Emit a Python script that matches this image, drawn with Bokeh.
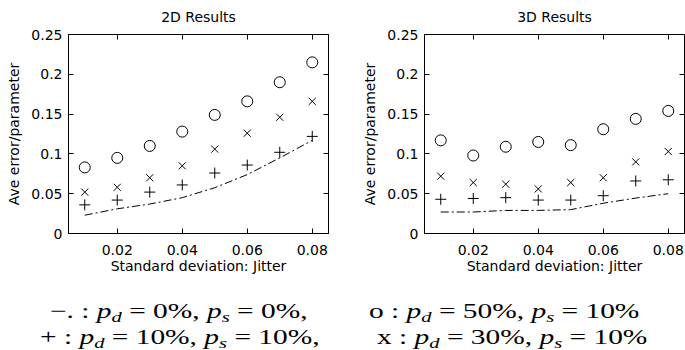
from bokeh.plotting import figure
from bokeh.models import FixedTicker, LinearAxis, Div, Range1d, CustomJSTickFormatter, Title
from bokeh.layouts import column, row
from bokeh.embed import file_html
from bokeh.resources import INLINE

jitter = [0.01, 0.02, 0.03, 0.04, 0.05, 0.06, 0.07, 0.08]
x_ticks = [0.02, 0.04, 0.06, 0.08]
y_ticks = [0, 0.05, 0.1, 0.15, 0.2, 0.25]

# 2D results
d2_circle = [0.083, 0.095, 0.110, 0.128, 0.149, 0.166, 0.190, 0.215]
d2_x = [0.052, 0.058, 0.070, 0.085, 0.106, 0.126, 0.146, 0.166]
d2_plus = [0.036, 0.042, 0.052, 0.061, 0.076, 0.086, 0.102, 0.122]
d2_dashdot = [0.023, 0.031, 0.037, 0.045, 0.0575, 0.074, 0.095, 0.117]

# 3D results
d3_circle = [0.117, 0.098, 0.109, 0.115, 0.111, 0.131, 0.144, 0.154]
d3_x = [0.072, 0.064, 0.062, 0.056, 0.064, 0.070, 0.090, 0.103]
d3_plus = [0.043, 0.044, 0.045, 0.042, 0.042, 0.0475, 0.066, 0.0675]
d3_dashdot = [0.027, 0.027, 0.029, 0.029, 0.030, 0.038, 0.0445, 0.050]

FONT = "DejaVu Sans"
fmt = CustomJSTickFormatter(code="return tick.toFixed(2).replace(/0+$/,'').replace(/\\.$/,'');")
blank = CustomJSTickFormatter(code="return '';")


def style_axis(ax, show_labels=True):
    ax.axis_line_color = "black"
    ax.major_tick_line_color = "black"
    ax.major_tick_in = 5
    ax.major_tick_out = 0
    ax.minor_tick_line_color = None
    if show_labels:
        ax.major_label_text_font = FONT
        ax.major_label_text_font_size = "14px"
        ax.major_label_text_color = "black"
        ax.axis_label_text_font = FONT
        ax.axis_label_text_font_size = "14px"
        ax.axis_label_text_font_style = "normal"
        ax.axis_label_text_color = "black"
        ax.formatter = fmt
    else:
        ax.formatter = blank
        ax.major_label_text_font_size = "2px"
        ax.major_label_standoff = 0


def make(title, circ, xs, plus, dd, ml, mr, w):
    p = figure(width=w, height=283, x_range=Range1d(0.005, 0.085), y_range=Range1d(0, 0.25),
               output_backend="svg", toolbar_location=None,
               min_border_left=ml, min_border_right=mr, min_border_top=33, min_border_bottom=50)
    p.grid.visible = False
    p.outline_line_color = "black"
    p.outline_line_width = 1
    p.xaxis.ticker = FixedTicker(ticks=x_ticks)
    p.yaxis.ticker = FixedTicker(ticks=y_ticks)
    for ax in p.xaxis:
        style_axis(ax)
        ax.axis_label = "Standard deviation: Jitter"
        ax.major_label_standoff = 11
        ax.axis_label_standoff = 0
    for ax in p.yaxis:
        style_axis(ax)
        ax.axis_label = "Ave error/parameter"
        ax.major_label_standoff = 6
        ax.axis_label_standoff = 6
    top = LinearAxis(ticker=FixedTicker(ticks=x_ticks))
    style_axis(top, False)
    p.add_layout(top, "above")
    right = LinearAxis(ticker=FixedTicker(ticks=y_ticks))
    style_axis(right, False)
    p.add_layout(right, "right")
    t = Title(text=title, align="center", text_font=FONT, text_font_size="14px",
              text_font_style="normal", text_color="black", standoff=16, vertical_align="top")
    p.add_layout(t, "above")

    p.line(jitter, dd, line_color="black", line_width=1, line_dash="8 3 2 3")
    p.scatter(jitter, circ, marker="circle", size=11, fill_color=None, line_color="black", line_width=1)
    p.scatter(jitter, xs, marker="x", size=10, line_color="black", line_width=1)
    p.scatter(jitter, plus, marker="cross", size=11, line_color="black", line_width=1)
    return p


f1 = make("2D Results", d2_circle, d2_x, d2_plus, d2_dashdot, 68, 12, 340)
f2 = make("3D Results", d3_circle, d3_x, d3_plus, d3_dashdot, 84, 1, 345)

SUB = '<span style="font-size:70%;font-style:italic;vertical-align:-0.25em">{}</span>'
P = '<i>p</i>'
legend_items = [
    (f"&minus;. : {P}{SUB.format('d')} = 0%, {P}{SUB.format('s')} = 0%,", 45, 12),
    (f"o : {P}{SUB.format('d')} = 50%, {P}{SUB.format('s')} = 10%", 364, 12),
    (f"+ : {P}{SUB.format('d')} = 10%, {P}{SUB.format('s')} = 10%,", 35, 38),
    (f"x : {P}{SUB.format('d')} = 30%, {P}{SUB.format('s')} = 10%", 372, 38),
]
spans = "".join(
    f'<span style="position:absolute;left:{l}px;top:{t}px;white-space:nowrap;line-height:22px;'
    f'transform:scaleX(1.4);transform-origin:0 50%">{txt}</span>'
    for txt, l, t in legend_items
)
html = ('<div style="position:relative;width:669px;height:60px;font-family:\'Liberation Serif\';'
        'font-size:21px;color:black">' + spans + '</div>')
div = Div(text=html, width=669, height=60)

layout = column(row(f1, f2), div)
open("out.html", "w").write(file_html(layout, INLINE))
